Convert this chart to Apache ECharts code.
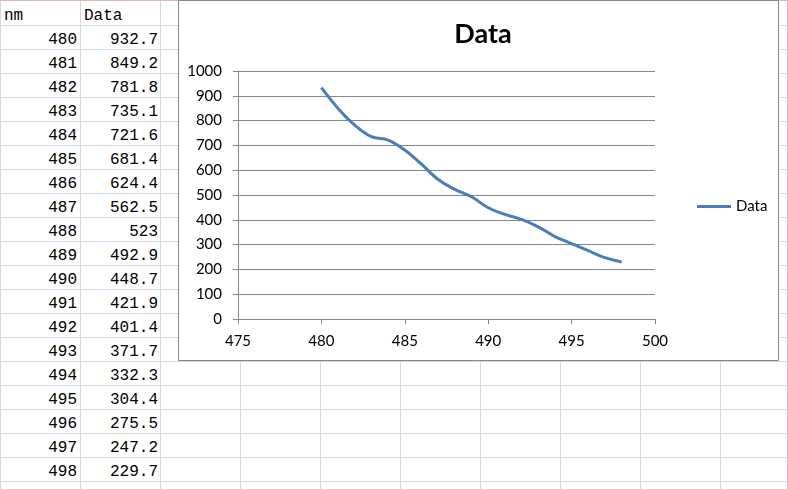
<!DOCTYPE html>
<html>
<head>
<meta charset="utf-8">
<script src="https://cdn.jsdelivr.net/npm/echarts@6/dist/echarts.min.js"></script>
<style>
html,body{margin:0;padding:0;background:#fff;}
#sheet{position:absolute;left:0;top:0;width:788px;height:489px;overflow:hidden;}
.vl{position:absolute;top:0;width:1px;height:489px;background:#d0d7e5;}
.hl{position:absolute;left:0;height:1px;width:788px;background:#d0d7e5;}
.cell{position:absolute;height:24px;line-height:24px;font-family:"Liberation Mono",monospace;font-size:16px;color:#000;white-space:nowrap;}
#chart{position:absolute;left:0;top:0;width:788px;height:489px;}
</style>
</head>
<body>
<div id="sheet"></div>
<div id="chart"></div>
<script>
// ---- data ----
const headers = ['nm', 'Data'];
const wavelengths = [480,481,482,483,484,485,486,487,488,489,490,491,492,493,494,495,496,497,498];
const values = ['932.7','849.2','781.8','735.1','721.6','681.4','624.4','562.5','523','492.9','448.7','421.9','401.4','371.7','332.3','304.4','275.5','247.2','229.7'];
const xTicks = [475, 500, 5];   // min, max, interval
const yTicks = [0, 1000, 100];  // min, max, interval
const seriesName = 'Data';
const chartTitle = 'Data';

// ---- spreadsheet background ----
const sheet = document.getElementById('sheet');
for (let x = 0; x <= 800; x += 80) {
  const d = document.createElement('div'); d.className = 'vl'; d.style.left = x + 'px'; sheet.appendChild(d);
}
for (let y = 25; y <= 489; y += 24) {
  const d = document.createElement('div'); d.className = 'hl'; d.style.top = y + 'px'; sheet.appendChild(d);
}
const topPink = document.createElement('div');
topPink.style.cssText = 'position:absolute;left:0;top:0;width:788px;height:1px;background:#dcb4cf;';
sheet.appendChild(topPink);
const rightPink = document.createElement('div');
rightPink.style.cssText = 'position:absolute;left:787px;top:0;width:1px;height:489px;background:#dcb4cf;';
sheet.appendChild(rightPink);

function addCell(text, left, width, top, align) {
  const d = document.createElement('div');
  d.className = 'cell';
  d.textContent = text;
  d.style.left = left + 'px';
  d.style.width = width + 'px';
  d.style.top = top + 'px';
  d.style.textAlign = align;
  sheet.appendChild(d);
}
addCell(headers[0], 4, 70, 4, 'left');
addCell(headers[1], 84, 70, 4, 'left');
wavelengths.forEach((w, i) => {
  const top = 28 + 24 * i;
  addCell(String(w), 0, 77, top, 'right');
  addCell(values[i], 80, 78, top, 'right');
});

// ---- chart ----
const chart = echarts.init(document.getElementById('chart'), null, {renderer: 'canvas'});
const pts = wavelengths.map((w, i) => [w, parseFloat(values[i])]);
const labelFont = {fontFamily: 'Lato', fontSize: 15, color: '#000'};
chart.setOption({
  animation: false,
  backgroundColor: 'transparent',
  graphic: [{
    type: 'rect', z: -10, silent: true,
    shape: {x: 178.5, y: 0.5, width: 600, height: 360},
    style: {fill: '#fff', stroke: '#868686', lineWidth: 1}
  }],
  title: {
    text: chartTitle, left: 478, top: 16, textAlign: 'center',
    textStyle: {fontFamily: 'Lato', fontWeight: 'bold', fontSize: 27, color: '#000'}
  },
  legend: {
    data: [seriesName], left: 692, top: 194, icon: 'rect',
    itemWidth: 34, itemHeight: 3, itemGap: 4,
    textStyle: {fontFamily: 'Lato', fontSize: 15, color: '#000'}
  },
  grid: {left: 238, top: 71, width: 417, height: 248, outerBoundsMode: 'none'},
  xAxis: {
    type: 'value', min: xTicks[0], max: xTicks[1], interval: xTicks[2],
    axisLine: {show: true, lineStyle: {color: '#868686', width: 1}},
    axisTick: {show: true, length: 5, lineStyle: {color: '#868686'}},
    splitLine: {show: false},
    axisLabel: Object.assign({margin: 15, formatter: v => String(v)}, labelFont)
  },
  yAxis: {
    type: 'value', min: yTicks[0], max: yTicks[1], interval: yTicks[2],
    axisLine: {show: true, lineStyle: {color: '#868686', width: 1}},
    axisTick: {show: true, length: 5, lineStyle: {color: '#868686'}},
    splitLine: {show: true, lineStyle: {color: '#868686', width: 1}},
    axisLabel: Object.assign({margin: 16, formatter: v => String(v)}, labelFont)
  },
  series: [{
    name: seriesName, type: 'line', data: pts, smooth: 0.4,
    showSymbol: false, symbol: 'none',
    lineStyle: {color: '#4a7ebb', width: 3},
    itemStyle: {color: '#4a7ebb'}
  }]
});
</script>
</body>
</html>
